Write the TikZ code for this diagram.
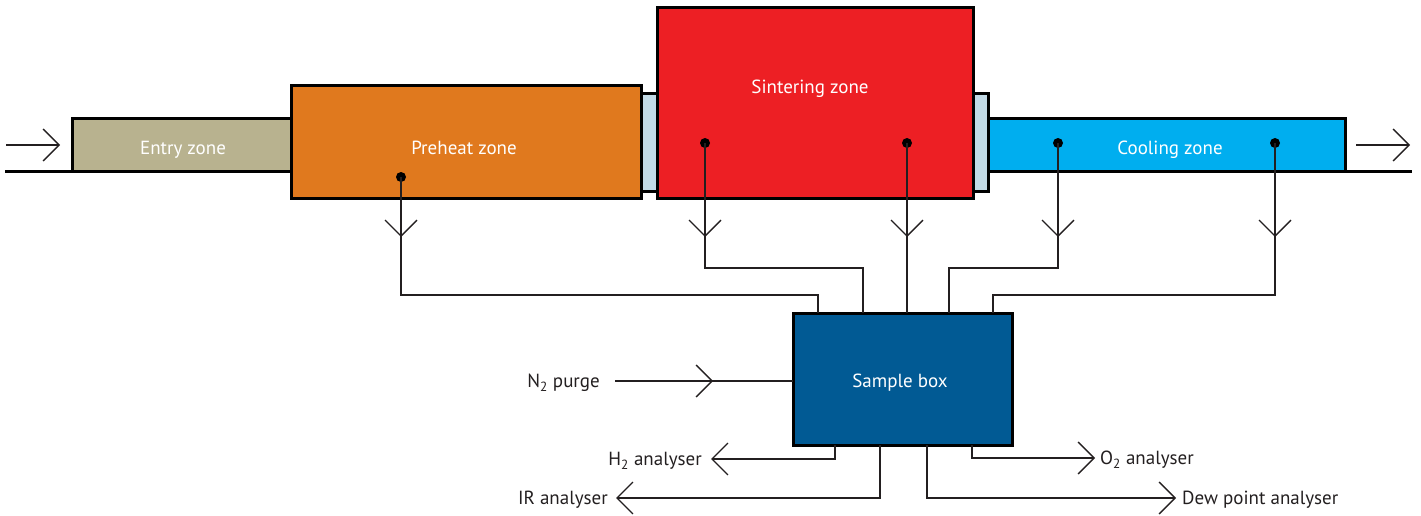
\documentclass[tikz,border=0pt]{standalone}
\usepackage{fontspec}
\setmainfont{PT Sans}
\usetikzlibrary{arrows.meta,decorations.markings,calc}
\definecolor{entryc}{HTML}{B8B28F}
\definecolor{preheatc}{HTML}{E0791E}
\definecolor{sinterc}{HTML}{ED1F24}
\definecolor{gapc}{HTML}{C2DAE6}
\definecolor{coolc}{HTML}{00AEEF}
\definecolor{samplec}{HTML}{015A94}
\definecolor{inkc}{HTML}{231F20}
\tikzset{
  zone/.style={draw=black, line width=3pt, rectangle, inner sep=0pt, outer sep=0pt},
  conn/.style={draw=inkc, line width=1.3pt},
  barb/.style={-{Straight Barb[length=16pt,width=32pt]}},
  midbarb/.style={postaction={decorate,decoration={markings,mark=at position #1 with {\arrow{Straight Barb[length=16pt,width=32pt]}}}}},
  lbl/.style={text=inkc, inner sep=0pt, text height=13pt, text depth=4pt, font=\fontsize{19}{21}\selectfont},
  dot/.style={circle, fill=black, inner sep=0pt, minimum size=10pt}
}
\begin{document}
\begin{tikzpicture}[x=1pt,y=-1pt]
\useasboundingbox (0,0) rectangle (1421,516);
% connectors between zones
\node[zone, fill=gapc, minimum width=16pt, minimum height=98pt] (gapL) at (649,142.5) {};
\node[zone, fill=gapc, minimum width=15pt, minimum height=98pt] (gapR) at (980.5,142.5) {};
% zones
\node[zone, fill=entryc, minimum width=219pt, minimum height=52pt] (entry) at (181.5,145) {};
\node[zone, fill=preheatc, minimum width=350pt, minimum height=112pt] (preheat) at (466,142) {};
\node[zone, fill=sinterc, minimum width=316pt, minimum height=190pt] (sinter) at (815,103) {};
\node[zone, fill=coolc, minimum width=357pt, minimum height=52pt] (cool) at (1166.5,145) {};
\node[zone, fill=samplec, minimum width=219pt, minimum height=132pt] (sample) at (902.5,379) {};
% zone texts
\node[lbl, text=white] (tentry) at (183,150) {Entry zone};
\node[lbl, text=white] (tpre) at (464,150) {Preheat zone};
\node[lbl, text=white] (tsin) at (810,89) {Sintering zone};
\node[lbl, text=white] (tcool) at (1170,150) {Cooling zone};
\node[lbl, text=white] (tsample) at (900,383) {Sample box};
% conveyor
\coordinate (cl) at (5,171);
\coordinate (cr) at (1412,171);
\draw[line width=3pt] (cl) -- (entry.south west);
\draw[line width=3pt] (cool.south east) -- (cr);
\coordinate (inA) at (6,145);
\coordinate (inB) at (60,145);
\coordinate (outA) at (1356,145);
\coordinate (outB) at (1410,145);
\draw[conn, barb] (inA) -- (inB);
\draw[conn, barb] (outA) -- (outB);
% probes
\node[dot] (p1) at (401,177) {};
\node[dot] (p2) at (705,143) {};
\node[dot] (p3) at (907,143) {};
\node[dot] (p4) at (1058,143) {};
\node[dot] (p5) at (1275,143) {};
\coordinate (s1) at (818,313);
\coordinate (s2) at (863,313);
\coordinate (s3) at (907,313);
\coordinate (s4) at (949,313);
\coordinate (s5) at (993,313);
\draw[conn, midbarb=60pt] (p1.center) -- ++(0,118) -| (s1);
\draw[conn, midbarb=94pt] (p2.center) -- ++(0,125) -| (s2);
\draw[conn, midbarb=94pt] (p3.center) -- (s3);
\draw[conn, midbarb=94pt] (p4.center) -- ++(0,125) -| (s4);
\draw[conn, midbarb=94pt] (p5.center) -- ++(0,152) -| (s5);
% N2 purge
\node[lbl, anchor=east] (tn2) at (600,383) {N\textsubscript{2} purge};
\coordinate (n2s) at (615,381);
\draw[conn, midbarb=98pt] (n2s) -- (sample.west |- n2s);
% outputs
\coordinate (b1) at (835,445);
\coordinate (b2) at (880,445);
\coordinate (b3) at (927,445);
\coordinate (b4) at (972,445);
\node[lbl, anchor=east] (th2) at (702,461) {H\textsubscript{2} analyser};
\node[lbl, anchor=east] (tir) at (608,500) {IR analyser};
\node[lbl, anchor=west] (to2) at (1100,460) {O\textsubscript{2} analyser};
\node[lbl, anchor=west] (tdew) at (1182,500) {Dew point analyser};
\coordinate (e1) at (711,459);
\coordinate (e2) at (616,498);
\coordinate (e3) at (1176,498);
\coordinate (e4) at (1095,458);
\draw[conn, barb] (b1) |- (e1);
\draw[conn, barb] (b2) |- (e2);
\draw[conn, barb] (b3) |- (e3);
\draw[conn, barb] (b4) |- (e4);
\end{tikzpicture}
\end{document}
